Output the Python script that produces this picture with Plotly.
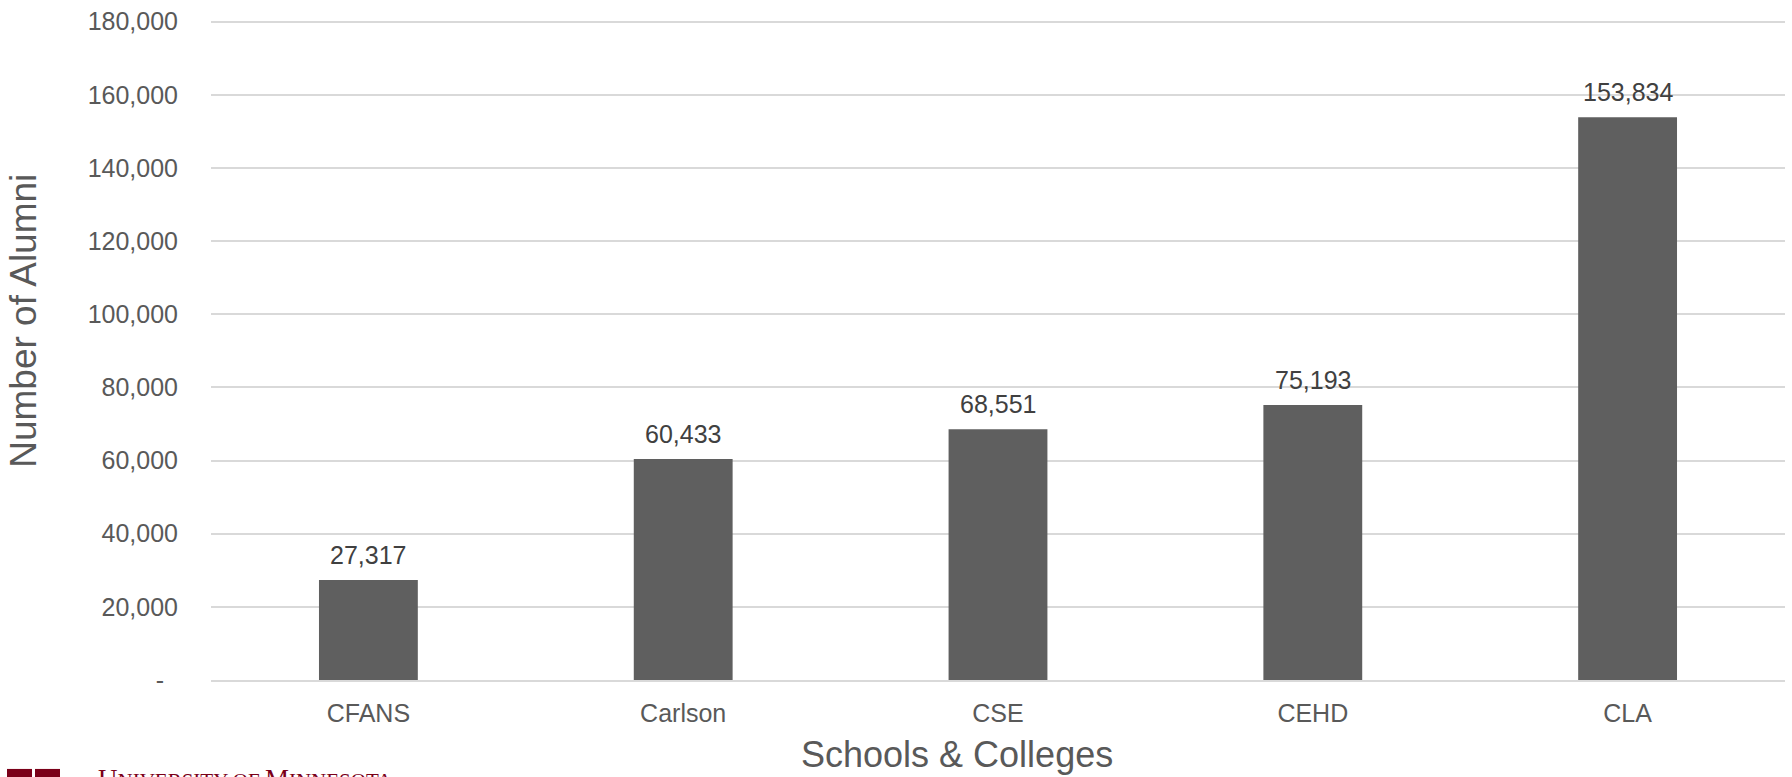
import plotly.graph_objects as go

# Alumni counts by school / college
schools = ["CFANS", "Carlson", "CSE", "CEHD", "CLA"]
alumni = [27317, 60433, 68551, 75193, 153834]
y_ticks = [0, 20000, 40000, 60000, 80000, 100000, 120000, 140000, 160000, 180000]
Y_MAX = 181000  # a little headroom so the 180,000 gridline is drawn

W, H = 1792, 777
PLOT_L, PLOT_R = 211, 1785
PLOT_B = 680.5
PX_PER_UNIT = (680.5 - 18) / 180000
PLOT_T = PLOT_B - Y_MAX * PX_PER_UNIT

FONT = "Liberation Sans, Arial, sans-serif"
BAR = "#5f5f5f"
GRID = "#d9d9d9"
TICK_C = "#595959"
LABEL_C = "#404040"
MAROON = "#7a0019"


def tick_text(v):
    # accounting-style format: zero shows as a dash
    return "-\u00a0\u00a0" if v == 0 else f"{v:,}"


# page pixel -> paper coordinates (paper spans the plot area)
def px(x):
    return (x - PLOT_L) / (PLOT_R - PLOT_L)


def py(y):
    return (PLOT_B - y) / (PLOT_B - PLOT_T)


fig = go.Figure(
    go.Bar(
        x=schools,
        y=alumni,
        marker=dict(color=BAR, line=dict(width=0)),
        width=0.314,
        hoverinfo="x+y",
    )
)

# value labels above each bar
for s, v in zip(schools, alumni):
    fig.add_annotation(
        x=s, y=v, xref="x", yref="y",
        text=f"{v:,}", showarrow=False,
        yanchor="middle", yshift=25,
        font=dict(family=FONT, size=25, color=LABEL_C),
    )

# axis titles
fig.add_annotation(
    x=px(957), y=py(755), xref="paper", yref="paper",
    text="Schools & Colleges", showarrow=False,
    xanchor="center", yanchor="middle",
    font=dict(family=FONT, size=36, color=TICK_C),
)
fig.add_annotation(
    x=px(24), y=py(319), xref="paper", yref="paper",
    text="Number of Alumni", showarrow=False, textangle=-90,
    xanchor="center", yanchor="middle",
    font=dict(family=FONT, size=37, color=TICK_C),
)

# university wordmark along the bottom edge
for x0, x1 in [(7, 32), (35, 60)]:
    fig.add_shape(
        type="rect", xref="paper", yref="paper",
        x0=px(x0), x1=px(x1), y0=py(800), y1=py(770),
        fillcolor=MAROON, line=dict(width=0), layer="above",
    )
sc = "<span style='font-size:21px'>"
fig.add_annotation(
    x=px(96), y=py(763), xref="paper", yref="paper",
    text=f"U{sc}NIVERSITY OF </span>M{sc}INNESOTA</span>",
    showarrow=False, xanchor="left", yanchor="top",
    font=dict(family="Liberation Serif, Times New Roman, serif", size=27, color=MAROON),
)

fig.update_layout(
    width=W, height=H,
    margin=dict(l=PLOT_L, r=W - PLOT_R, t=PLOT_T, b=H - PLOT_B, pad=0),
    paper_bgcolor="white", plot_bgcolor="white",
    showlegend=False,
    bargap=0.686,
    font=dict(family=FONT, color=TICK_C),
    xaxis=dict(
        showgrid=False, showline=True, linecolor=GRID, linewidth=1.5,
        ticks="", tickfont=dict(family=FONT, size=25, color=TICK_C),
        ticklabelstandoff=10,
    ),
    yaxis=dict(
        range=[0, Y_MAX], tickvals=y_ticks,
        ticktext=[tick_text(v) for v in y_ticks],
        showgrid=True, gridcolor=GRID, gridwidth=1.5,
        zeroline=False, showline=False, ticks="",
        tickfont=dict(family=FONT, size=25, color=TICK_C),
        ticklabelstandoff=32,
    ),
)

fig.write_html("out.html")
